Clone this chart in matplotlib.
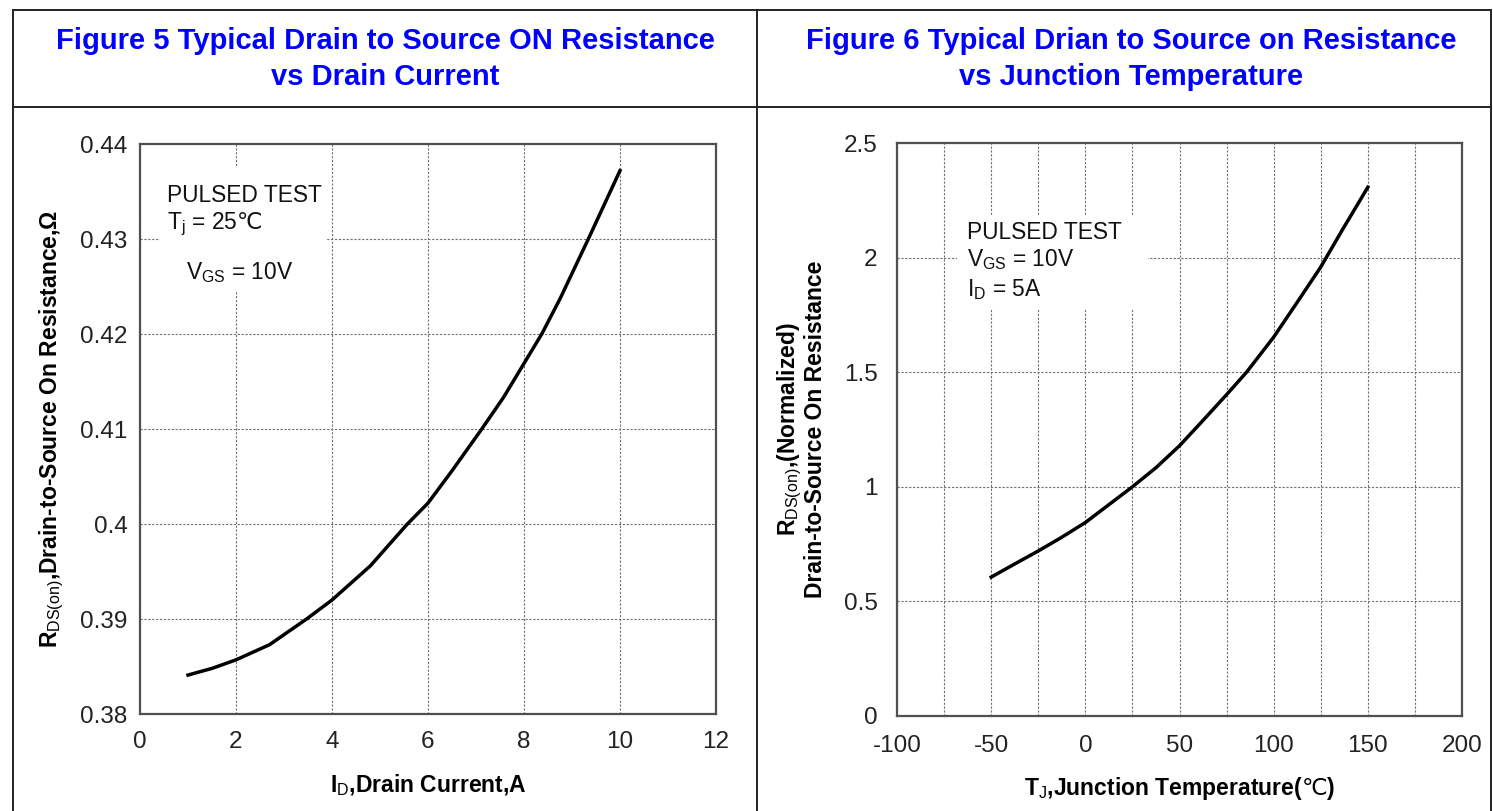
import numpy as np
import matplotlib
matplotlib.use("Agg")
from matplotlib import pyplot as plt
from matplotlib.lines import Line2D
from matplotlib.patches import Rectangle

plt.rcParams['font.family'] = ['Liberation Sans', 'DejaVu Sans']
plt.rcParams['mathtext.fontset'] = 'custom'
plt.rcParams['mathtext.rm'] = 'Liberation Sans'
plt.rcParams['mathtext.it'] = 'Liberation Sans'
plt.rcParams['mathtext.bf'] = 'Liberation Sans:bold'
plt.rcParams['mathtext.sf'] = 'DejaVu Sans'
plt.rcParams['axes.unicode_minus'] = False

# Figure 5: Rds(on) vs drain current
id_current = [1.0, 1.5, 2.0, 2.7, 3.47, 4.0, 4.8, 5.57, 6.0, 6.5, 7.12, 7.57,
              8.0, 8.37, 8.75, 9.34, 10.0]
rds_on = [0.3841, 0.3848, 0.3857, 0.3873, 0.3900, 0.3920, 0.3956, 0.4000,
          0.4022, 0.4056, 0.4100, 0.4133, 0.4169, 0.4200, 0.4237, 0.4300, 0.4372]
fig5_xticks = [0, 2, 4, 6, 8, 10, 12]
fig5_yticks = [0.38, 0.39, 0.40, 0.41, 0.42, 0.43, 0.44]
fig5_yticklabels = ['0.38', '0.39', '0.4', '0.41', '0.42', '0.43', '0.44']

# Figure 6: normalized Rds(on) vs junction temperature
tj = [-50, -37.8, -25, -12.9, 0, 25, 37.6, 50, 62.4, 75, 85.6, 100, 112,
      125, 136.9, 150]
rds_norm = [0.606, 0.662, 0.72, 0.778, 0.844, 1.0, 1.084, 1.179, 1.289, 1.402,
            1.5, 1.653, 1.799, 1.959, 2.127, 2.307]
fig6_xticks = [-100, -50, 0, 50, 100, 150, 200]
fig6_xgrid = np.arange(-100, 201, 25)
fig6_yticks = [0, 0.5, 1, 1.5, 2, 2.5]
fig6_yticklabels = ['0', '0.5', '1', '1.5', '2', '2.5']

W, H = 1493, 811
fig = plt.figure(figsize=(W / 100, H / 100), dpi=100)


def px(x, y):
    return x / W, 1 - y / H


def style_axes(ax):
    ax.set_axisbelow(True)
    for s in ax.spines.values():
        s.set_color('#505050')
        s.set_linewidth(1.6)
    ax.grid(True, which='both', color='#707070', linestyle=(0, (2, 1.5)),
            linewidth=0.8)
    ax.tick_params(which='both', length=0, labelsize=17.5, colors='#222222')


# ---- frame ----
frame_kw = dict(color='#222222', linewidth=1.4, transform=fig.transFigure)
for (x0, y0), (x1, y1) in [((13, 10), (1491, 10)), ((13, 10), (13, 811)),
                           ((1491, 10), (1491, 811)), ((13, 107), (1491, 107)),
                           ((757, 10), (757, 811))]:
    a, b = px(x0, y0)
    c, d = px(x1, y1)
    fig.add_artist(Line2D([a, c], [b, d], **frame_kw))

title_kw = dict(ha='center', va='center', color='#0000FF', fontsize=21,
                fontweight='bold', linespacing=1.35)
fig.text(*px(385, 59), 'Figure 5 Typical Drain to Source ON Resistance\nvs Drain Current',
         **title_kw)
fig.text(*px(1131, 59), 'Figure 6 Typical Drian to Source on Resistance\nvs Junction Temperature',
         **title_kw)

txt_kw = dict(fontsize=16.4, va='center', ha='left', color='#111111')

# ---- Figure 5 ----
ax1 = fig.add_axes([140 / W, 1 - 714 / H, 576 / W, 570 / H])
style_axes(ax1)
ax1.plot(id_current, rds_on, color='black', linewidth=2.5, zorder=3)
ax1.set_xlim(0, 12)
ax1.set_ylim(0.38, 0.44)
ax1.set_xticks(fig5_xticks)
ax1.set_yticks(fig5_yticks)
ax1.set_yticklabels(fig5_yticklabels)
ax1.tick_params(axis='x', pad=12)
ax1.tick_params(axis='y', pad=9)
ax1.set_xlabel(r'I$_\mathrm{D}$,Drain Current,A', fontsize=16.5,
               fontweight='bold', labelpad=14)
ax1.set_ylabel(r'$\mathbf{R}_{\mathrm{DS(on)}}$,Drain-to-Source On Resistance,Ω',
               fontsize=16.5, fontweight='bold', labelpad=10)
ax1.add_patch(Rectangle((0.035, 0.740), 0.29, 0.218, transform=ax1.transAxes,
                        facecolor='white', edgecolor='none', zorder=1))
ax1.text(0.047, 0.909, 'PULSED TEST', transform=ax1.transAxes, **txt_kw)
ax1.text(0.047, 0.860, r'T$_\mathrm{j}$ = 25$\mathsf{℃}$', transform=ax1.transAxes,
         **txt_kw)
ax1.text(0.080, 0.775, r'V$_\mathrm{GS}$ = 10V', transform=ax1.transAxes, **txt_kw)

# ---- Figure 6 ----
ax2 = fig.add_axes([897 / W, 1 - 716 / H, 565 / W, 573 / H])
style_axes(ax2)
ax2.plot(tj, rds_norm, color='black', linewidth=2.5, zorder=3)
ax2.set_xlim(-100, 200)
ax2.set_ylim(0, 2.5)
ax2.set_xticks(fig6_xticks)
ax2.set_xticks(fig6_xgrid, minor=True)
ax2.set_yticks(fig6_yticks)
ax2.set_yticklabels(fig6_yticklabels)
ax2.grid(False, which='minor', axis='y')
ax2.tick_params(axis='x', pad=13.5)
ax2.tick_params(axis='y', pad=14)
ax2.set_xlabel(r'T$_\mathrm{J}$,Junction Temperature($\mathsf{℃}$)', fontsize=16.5,
               fontweight='bold', labelpad=13)
ax2.set_ylabel('$\\mathbf{R}_{\\mathrm{DS(on)}}$,(Normalized)\nDrain-to-Source On Resistance',
               fontsize=16.5, fontweight='bold', labelpad=12, linespacing=1.0)
ax2.add_patch(Rectangle((0.106, 0.709), 0.338, 0.164, transform=ax2.transAxes,
                        facecolor='white', edgecolor='none', zorder=1))
ax2.text(0.124, 0.843, 'PULSED TEST', transform=ax2.transAxes, **txt_kw)
ax2.text(0.124, 0.796, r'V$_\mathrm{GS}$ = 10V', transform=ax2.transAxes, **txt_kw)
ax2.text(0.124, 0.745, r'I$_\mathrm{D}$ = 5A', transform=ax2.transAxes, **txt_kw)

fig.savefig('out.png', dpi=100)
